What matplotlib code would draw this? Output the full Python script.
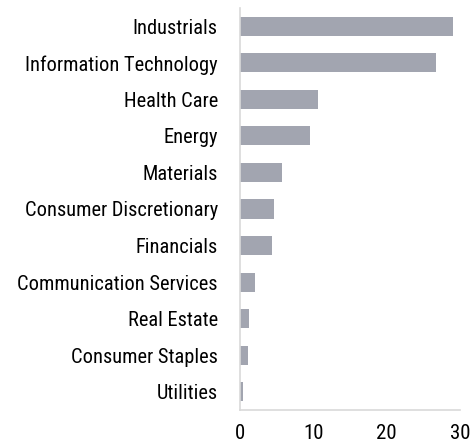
import matplotlib
matplotlib.use("Agg")
import matplotlib.pyplot as plt

# -------------------- Data -------------------- #
sectors = [
    "Industrials",
    "Information Technology",
    "Health Care",
    "Energy",
    "Materials",
    "Consumer Discretionary",
    "Financials",
    "Communication Services",
    "Real Estate",
    "Consumer Staples",
    "Utilities",
]
weights = [29.0, 26.7, 10.7, 9.6, 5.7, 4.6, 4.3, 2.0, 1.2, 1.05, 0.45]
xticks = [0, 10, 20, 30]

# -------------------- Font -------------------- #
plt.rcParams["font.family"] = ["Roboto Condensed", "Liberation Sans", "DejaVu Sans"]

# -------------------- Plot -------------------- #
fig = plt.figure(figsize=(4.74, 4.46), dpi=100)
ax = fig.add_axes([240 / 474, 36 / 446, 220 / 474, 402 / 446])

ypos = list(range(len(sectors)))
ax.barh(ypos, weights, height=0.52, color="#a2a5b0")
ax.set_ylim(len(sectors) - 0.5, -0.5)
ax.set_xlim(0, 30)

ax.set_yticks(ypos)
ax.set_yticklabels(sectors, fontsize=14.7)
ax.set_xticks(xticks)
ax.set_xticklabels([str(t) for t in xticks], fontsize=15)
ax.tick_params(axis="y", length=0, pad=16, colors="#000000")
ax.tick_params(axis="x", length=0, pad=10)

for side in ["top", "right"]:
    ax.spines[side].set_visible(False)
for side in ["left", "bottom"]:
    ax.spines[side].set_color("#d9d9d9")
    ax.spines[side].set_linewidth(1.2)

fig.savefig("out.png", dpi=100)
